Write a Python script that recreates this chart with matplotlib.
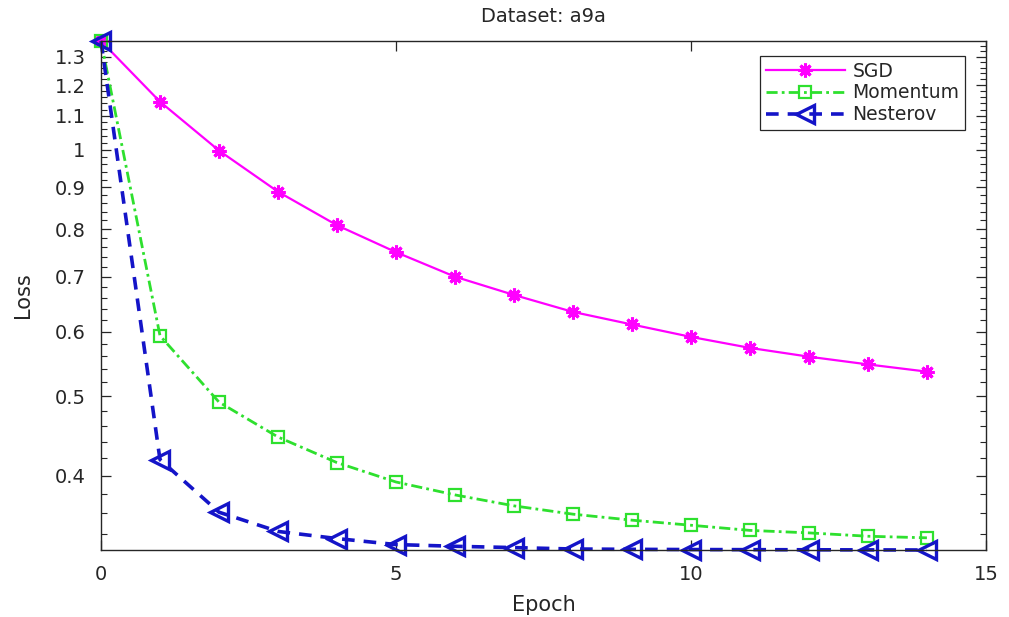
import numpy as np
import matplotlib
matplotlib.use("Agg")
import matplotlib.pyplot as plt
from matplotlib.ticker import FixedLocator, MultipleLocator, NullLocator

plt.rcParams["font.family"] = ["DejaVu Sans"]

# values (log-scale loss per epoch)
epochs = list(range(15))
sgd = [1.358, 1.145, 0.998, 0.889, 0.809, 0.750, 0.700, 0.665, 0.634,
       0.612, 0.591, 0.573, 0.559, 0.547, 0.536]
momentum = [1.358, 0.593, 0.492, 0.446, 0.415, 0.393, 0.379, 0.3675, 0.359,
            0.353, 0.348, 0.343, 0.3406, 0.3374, 0.3359]
nesterov = [1.358, 0.4185, 0.361, 0.342, 0.3352, 0.3296, 0.328, 0.3268, 0.3255,
            0.3252, 0.3250, 0.3249, 0.3248, 0.3247, 0.3246]
ytick_vals = [0.4, 0.5, 0.6, 0.7, 0.8, 0.9, 1.0, 1.1, 1.2, 1.3]
ytick_labels = ["0.4", "0.5", "0.6", "0.7", "0.8", "0.9", "1", "1.1", "1.2", "1.3"]
xtick_vals = [0, 5, 10, 15]

fig = plt.figure(figsize=(10.09, 6.17), dpi=100)
ax = fig.add_axes([0.1001, 0.1086, 0.877, 0.8249])

ax.plot(epochs, sgd, color="#ff00ff", lw=1.6, marker=(8, 2, 0), ms=10, mew=2.2,
        label="SGD", clip_on=False)
ax.plot(epochs, momentum, color="#2ee02e", lw=2.0, ls=(0, (4, 1.5, 1, 1.5)), marker="s",
        ms=8, mfc="none", mew=1.6, label="Momentum", clip_on=False)
ax.plot(epochs, nesterov, color="#1414c8", lw=2.6, ls=(0, (3.5, 2.5)), marker="<",
        ms=13, mfc="none", mew=2.4, label="Nesterov", clip_on=False)

ax.set_yscale("log")
ax.set_xlim(0, 15)
ax.set_ylim(min(nesterov), max(sgd))
ax.xaxis.set_major_locator(FixedLocator(xtick_vals))
ax.xaxis.set_minor_locator(NullLocator())
ax.yaxis.set_major_locator(FixedLocator(ytick_vals))
ax.yaxis.set_minor_locator(MultipleLocator(0.02))
ax.yaxis.set_minor_formatter(plt.NullFormatter())
ax.set_yticklabels(ytick_labels)

for s in ax.spines.values():
    s.set_color("#262626")
    s.set_linewidth(1.0)
ax.tick_params(which="both", direction="in", top=True, right=True, colors="#262626",
               labelsize=14)
ax.tick_params(which="major", length=7, width=0.9)
ax.tick_params(which="minor", length=4, width=0.8)
ax.tick_params(axis="x", pad=11)
ax.tick_params(axis="y", pad=11)

ax.set_title("Dataset: a9a", fontsize=14, color="#262626", pad=14)
ax.set_xlabel("Epoch", fontsize=15, color="#262626", labelpad=8)
ax.set_ylabel("Loss", fontsize=15, color="#262626", labelpad=16)

leg = ax.legend(loc="upper right", bbox_to_anchor=(0.9763, 0.9705), borderaxespad=0,
                fontsize=13.5, handlelength=4.2, handletextpad=0.4, labelspacing=0.15,
                borderpad=0.3, fancybox=False, framealpha=1)
leg.get_frame().set_edgecolor("#262626")
leg.get_frame().set_linewidth(0.9)
for t in leg.get_texts():
    t.set_color("#262626")

fig.savefig("out.png", dpi=100)
